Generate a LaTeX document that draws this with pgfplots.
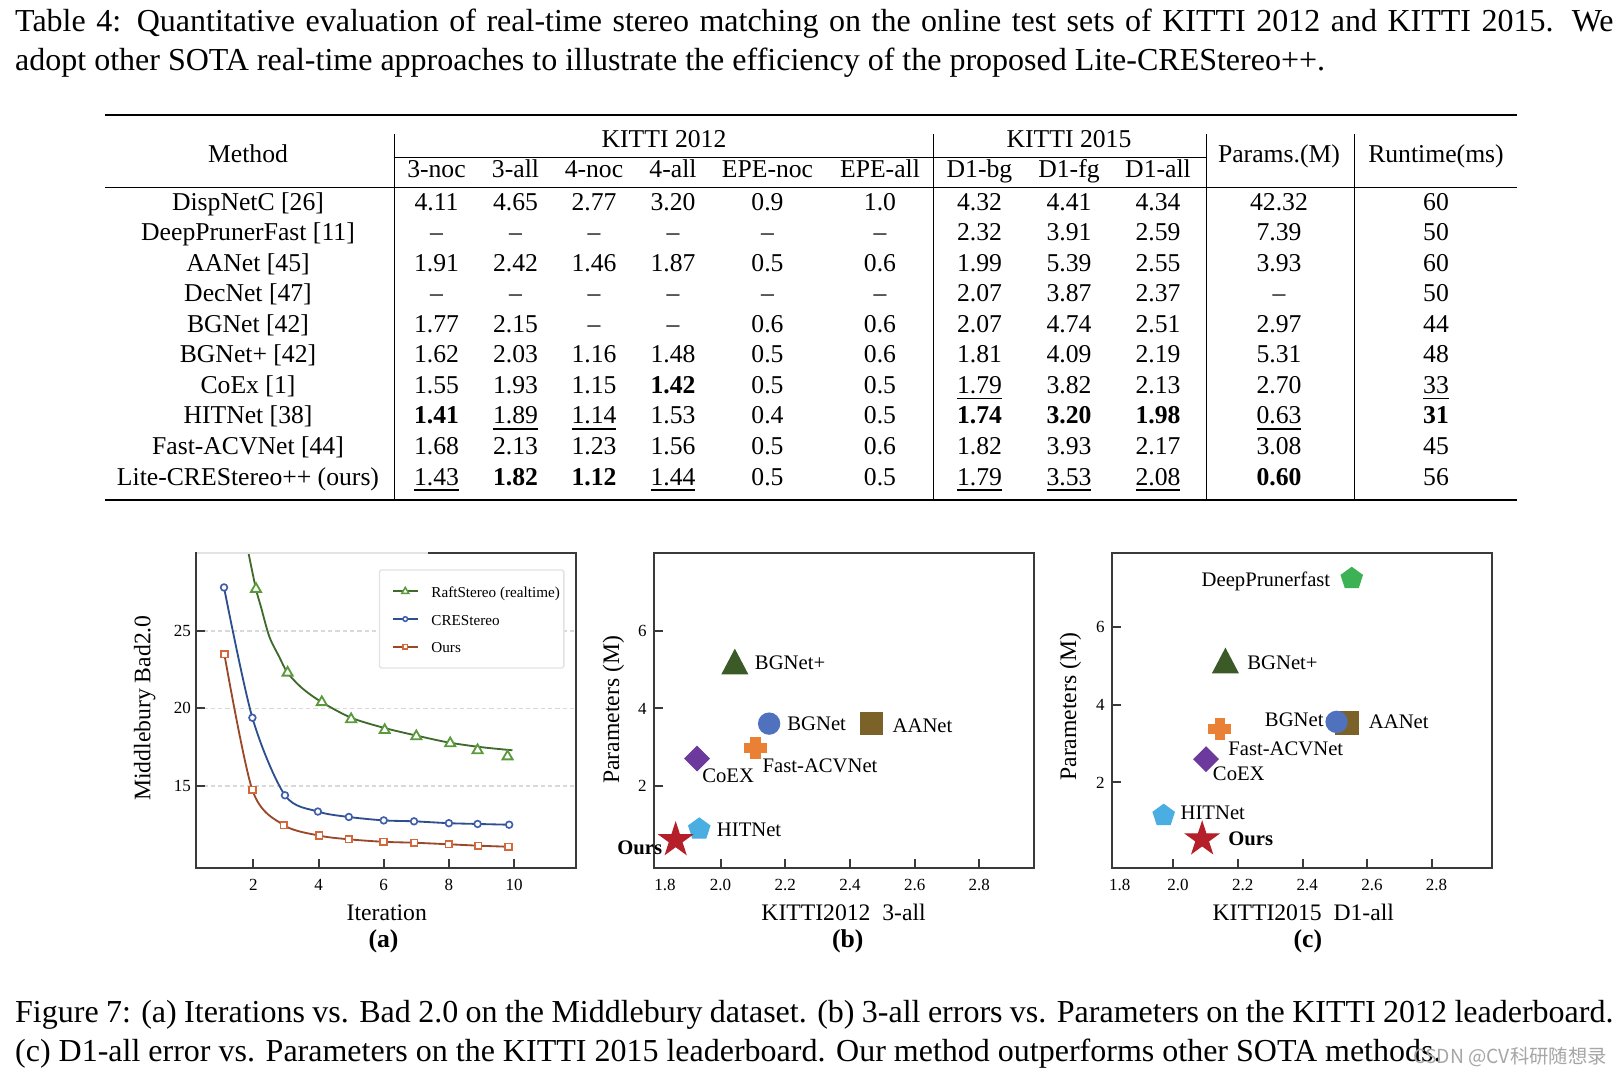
\documentclass[border=0pt]{standalone}
\usepackage{pgfplots}
\pgfplotsset{compat=1.18}
\usepackage{fontspec}
\setmainfont{Liberation Serif}
\newfontfamily\cjk{Noto Sans CJK SC}
\usetikzlibrary{plotmarks}

\definecolor{axgray}{HTML}{3A3A3A}
\definecolor{gridgray}{HTML}{D9D9D9}
\definecolor{raftL}{HTML}{3E6B2C}
\definecolor{raftM}{HTML}{5B9A3C}
\definecolor{creL}{HTML}{2E4F8E}
\definecolor{creM}{HTML}{3F5FAE}
\definecolor{oursL}{HTML}{99482A}
\definecolor{oursM}{HTML}{D4683A}
\definecolor{cBGp}{HTML}{3B5A27}
\definecolor{cBG}{HTML}{4F71BE}
\definecolor{cAA}{HTML}{7B6229}
\definecolor{cFA}{HTML}{E98034}
\definecolor{cCo}{HTML}{6C3A9C}
\definecolor{cHIT}{HTML}{4BAEE3}
\definecolor{cOurs}{HTML}{B51F2A}
\definecolor{cDP}{HTML}{3CB254}

\pgfdeclareplotmark{fplus}{%
  \pgfpathmoveto{\pgfqpoint{-0.42\pgfplotmarksize}{-\pgfplotmarksize}}%
  \pgfpathlineto{\pgfqpoint{0.42\pgfplotmarksize}{-\pgfplotmarksize}}%
  \pgfpathlineto{\pgfqpoint{0.42\pgfplotmarksize}{-0.42\pgfplotmarksize}}%
  \pgfpathlineto{\pgfqpoint{\pgfplotmarksize}{-0.42\pgfplotmarksize}}%
  \pgfpathlineto{\pgfqpoint{\pgfplotmarksize}{0.42\pgfplotmarksize}}%
  \pgfpathlineto{\pgfqpoint{0.42\pgfplotmarksize}{0.42\pgfplotmarksize}}%
  \pgfpathlineto{\pgfqpoint{0.42\pgfplotmarksize}{\pgfplotmarksize}}%
  \pgfpathlineto{\pgfqpoint{-0.42\pgfplotmarksize}{\pgfplotmarksize}}%
  \pgfpathlineto{\pgfqpoint{-0.42\pgfplotmarksize}{0.42\pgfplotmarksize}}%
  \pgfpathlineto{\pgfqpoint{-\pgfplotmarksize}{0.42\pgfplotmarksize}}%
  \pgfpathlineto{\pgfqpoint{-\pgfplotmarksize}{-0.42\pgfplotmarksize}}%
  \pgfpathlineto{\pgfqpoint{-0.42\pgfplotmarksize}{-0.42\pgfplotmarksize}}%
  \pgfpathclose\pgfusepathqfillstroke}
\pgfdeclareplotmark{fstar}{%
  \pgfpathmoveto{\pgfqpointpolar{90}{\pgfplotmarksize}}%
  \pgfpathlineto{\pgfqpointpolar{126}{0.382\pgfplotmarksize}}%
  \pgfpathlineto{\pgfqpointpolar{162}{\pgfplotmarksize}}%
  \pgfpathlineto{\pgfqpointpolar{198}{0.382\pgfplotmarksize}}%
  \pgfpathlineto{\pgfqpointpolar{234}{\pgfplotmarksize}}%
  \pgfpathlineto{\pgfqpointpolar{270}{0.382\pgfplotmarksize}}%
  \pgfpathlineto{\pgfqpointpolar{306}{\pgfplotmarksize}}%
  \pgfpathlineto{\pgfqpointpolar{342}{0.382\pgfplotmarksize}}%
  \pgfpathlineto{\pgfqpointpolar{18}{\pgfplotmarksize}}%
  \pgfpathlineto{\pgfqpointpolar{54}{0.382\pgfplotmarksize}}%
  \pgfpathclose\pgfusepathqfillstroke}

\tikzset{
  tc/.style={anchor=base, inner sep=0, font=\fontsize{7.7}{9}\selectfont},
  lab/.style={anchor=base west, inner sep=0, font=\fontsize{6.2}{7}\selectfont},
}
\newcommand{\rowA}[8]{%
  \node[tc] at (248,#1) {#2};
  \node[tc] at (436.5,#1) {#3};
  \node[tc] at (515.5,#1) {#4};
  \node[tc] at (594,#1) {#5};
  \node[tc] at (673,#1) {#6};
  \node[tc] at (767.5,#1) {#7};
  \node[tc] at (880,#1) {#8};}
\newcommand{\rowB}[6]{%
  \node[tc] at (979.5,#1) {#2};
  \node[tc] at (1069,#1) {#3};
  \node[tc] at (1158,#1) {#4};
  \node[tc] at (1279,#1) {#5};
  \node[tc] at (1436,#1) {#6};}
\newcommand{\ul}[1]{\underline{#1}}
\newcommand{\bb}[1]{\textbf{#1}}
\newcommand{\da}{\textendash}

\pgfplotsset{
  common/.style={
    scale only axis,
    anchor=south west,
    axis line style={axgray, line width=0.6pt},
    tick style={axgray, line width=0.6pt},
    major tick length=2.7pt,
    tick align=inside,
    tick pos=left,
    /pgf/number format/assume math mode=true,
    ticklabel style={font=\fontsize{5.1}{6}\selectfont},
    xticklabel style={yshift=0.2pt},
    label style={font=\fontsize{7.1}{8}\selectfont},
  },
  onedec/.style={
    xticklabel style={/pgf/number format/fixed, /pgf/number format/fixed zerofill, /pgf/number format/precision=1},
  },
}

\begin{document}
\begin{tikzpicture}[x=0.3pt, y=-0.3pt]
\useasboundingbox (0,0) rectangle (1621,1076);
\fill[white] (0,0) rectangle (1621,1076);
\coordinate (PA) at (196,868.3);
\coordinate (PB) at (654,868.3);
\coordinate (PC) at (1112,868.3);

% ---------------- captions ----------------
\node[anchor=base west, inner sep=0] at (14.5,31.5) {\parbox[t]{479.5pt}{\fontsize{9.6}{11.6}\selectfont
Table 4: Quantitative evaluation of real-time stereo matching on the online test sets of KITTI 2012 and KITTI 2015. We\linebreak
adopt other SOTA real-time approaches to illustrate the efficiency of the proposed Lite-CREStereo++.}};

\node[anchor=base west, inner sep=0] at (14.5,1022.5) {\parbox[t]{479.5pt}{\fontsize{9.6}{11.6}\selectfont
Figure 7: (a) Iterations vs. Bad 2.0 on the Middlebury dataset. (b) 3-all errors vs. Parameters on the KITTI 2012 leaderboard.\linebreak
(c) D1-all error vs. Parameters on the KITTI 2015 leaderboard. Our method outperforms other SOTA methods.}};

% ---------------- table ----------------
\draw[line width=0.55pt] (105,115) -- (1517,115);
\draw[line width=0.35pt] (105,187.7) -- (1517,187.7);
\draw[line width=0.55pt] (105,500) -- (1517,500);
\draw[line width=0.3pt] (394.4,157.3) -- (1206,157.3);
\draw[line width=0.3pt] (394.4,134.3) -- (394.4,500);
\draw[line width=0.3pt] (933.1,134.3) -- (933.1,500);
\draw[line width=0.3pt] (1206,134.3) -- (1206,500);
\draw[line width=0.3pt] (1354.3,134.3) -- (1354.3,500);

\node[tc] at (248,162.7) {Method};
\node[tc] at (664,147.3) {KITTI 2012};
\node[tc] at (1069,147.3) {KITTI 2015};
\node[tc] at (1279,162.7) {Params.(M)};
\node[tc] at (1436,162.7) {Runtime(ms)};
\rowA{177.7}{}{3-noc}{3-all}{4-noc}{4-all}{EPE-noc}{EPE-all}
\rowB{177.7}{D1-bg}{D1-fg}{D1-all}{}{}

\rowA{210}{DispNetC [26]}{4.11}{4.65}{2.77}{3.20}{0.9}{1.0}
\rowB{210}{4.32}{4.41}{4.34}{42.32}{60}
\rowA{240.6}{DeepPrunerFast [11]}{\da}{\da}{\da}{\da}{\da}{\da}
\rowB{240.6}{2.32}{3.91}{2.59}{7.39}{50}
\rowA{271.1}{AANet [45]}{1.91}{2.42}{1.46}{1.87}{0.5}{0.6}
\rowB{271.1}{1.99}{5.39}{2.55}{3.93}{60}
\rowA{301.7}{DecNet [47]}{\da}{\da}{\da}{\da}{\da}{\da}
\rowB{301.7}{2.07}{3.87}{2.37}{\da}{50}
\rowA{332.2}{BGNet [42]}{1.77}{2.15}{\da}{\da}{0.6}{0.6}
\rowB{332.2}{2.07}{4.74}{2.51}{2.97}{44}
\rowA{362.8}{BGNet+ [42]}{1.62}{2.03}{1.16}{1.48}{0.5}{0.6}
\rowB{362.8}{1.81}{4.09}{2.19}{5.31}{48}
\rowA{393.4}{CoEx [1]}{1.55}{1.93}{1.15}{\bb{1.42}}{0.5}{0.5}
\rowB{393.4}{\ul{1.79}}{3.82}{2.13}{2.70}{\ul{33}}
\rowA{423.9}{HITNet [38]}{\bb{1.41}}{\ul{1.89}}{\ul{1.14}}{1.53}{0.4}{0.5}
\rowB{423.9}{\bb{1.74}}{\bb{3.20}}{\bb{1.98}}{\ul{0.63}}{\bb{31}}
\rowA{454.5}{Fast-ACVNet [44]}{1.68}{2.13}{1.23}{1.56}{0.5}{0.6}
\rowB{454.5}{1.82}{3.93}{2.17}{3.08}{45}
\rowA{485}{Lite-CREStereo++ (ours)}{\ul{1.43}}{\bb{1.82}}{\bb{1.12}}{\ul{1.44}}{0.5}{0.5}
\rowB{485}{\ul{1.79}}{\ul{3.53}}{\ul{2.08}}{\bb{0.60}}{56}

% ---------------- (a) ----------------
\begin{axis}[common,
  at={(PA)}, width=114pt, height=94.5pt,
  xmin=0.24, xmax=11.9, ymin=9.69, ymax=30,
  xtick={2,4,6,8,10}, ytick={15,20,25},
  yticklabel style={xshift=2pt},
  ymajorgrids, grid style={gridgray, dash pattern=on 1.3pt off 0.9pt, line width=0.45pt},
  xlabel={Iteration}, ylabel={Middlebury Bad2.0},
  xlabel style={at={(axis description cs:0.502,-0.140)}, anchor=center},
  ylabel style={at={(axis description cs:-0.135,0.509)}, anchor=center},
  legend image code/.code={\path[draw=none, fill=none] (0pt,0pt) rectangle (3.6pt,0.1pt); \draw[mark repeat=2,mark phase=2] plot coordinates {(3.6pt,0pt) (7.35pt,0pt) (11.1pt,0pt)};},
  legend cell align=left,
  legend style={at={(axis description cs:0.481,0.949)}, anchor=north west,
    draw=gray!22, line width=0.4pt, fill=white, rounded corners=0.5pt,
    font=\fontsize{4.55}{5.5}\selectfont, inner xsep=0.4pt, inner ysep=3.5pt,
    row sep=2.5pt, column sep=3pt,
    nodes={inner sep=0.8pt, text height=3.9pt, text depth=0.3pt}},
]
\addplot[raftL, line width=0.55pt, smooth, forget plot] coordinates {
 (1.857,29.95) (2.08,27.7) (2.23,26.57) (2.49,24.63) (2.79,23.34) (3.05,22.3) (3.5,21.3) (4.1,20.4) (5,19.4) (6,18.75) (7,18.25) (8,17.8) (9,17.5) (9.95,17.3)};
\addplot[only marks, mark=triangle*, mark size=1.75pt, mark options={draw=raftM, fill=white, line width=0.55pt}, forget plot] coordinates {
 (2.08,27.7) (3.05,22.3) (4.1,20.4) (5.0,19.3) (6.03,18.6) (7.0,18.2) (8.04,17.75) (8.88,17.3) (9.8,16.9)};
\addplot[creL, line width=0.55pt, smooth, mark=*, mark size=1pt, mark options={draw=creM, fill=white, line width=0.5pt}, forget plot] coordinates {
 (1.1,27.8) (1.97,19.4) (2.97,14.4) (3.98,13.35) (4.93,13.0) (6.0,12.78) (6.93,12.72) (8.0,12.6) (8.88,12.55) (9.85,12.5)};
\addplot[oursL, line width=0.55pt, smooth, mark=square*, mark size=1pt, mark options={draw=oursM, fill=white, line width=0.5pt}, forget plot] coordinates {
 (1.11,23.5) (1.97,14.74) (2.93,12.48) (4.02,11.8) (4.93,11.56) (5.99,11.4) (6.93,11.34) (8.0,11.24) (8.9,11.15) (9.83,11.08)};
\addlegendimage{raftL, line width=0.6pt, mark=triangle*, mark size=1.2pt, mark options={draw=raftM, fill=white, line width=0.45pt}}
\addlegendentry{RaftStereo (realtime)}
\addlegendimage{creL, line width=0.6pt, mark=*, mark size=0.7pt, mark options={draw=creM, fill=white, line width=0.45pt}}
\addlegendentry{CREStereo}
\addlegendimage{oursL, line width=0.6pt, mark=square*, mark size=0.7pt, mark options={draw=oursM, fill=white, line width=0.45pt}}
\addlegendentry{Ours}
\end{axis}
\draw[gray!22, line width=0.7pt] (197,553.3) -- (428,553.3);

% ---------------- (b) ----------------
\begin{axis}[common, onedec,
  at={(PB)}, width=114pt, height=94.5pt,
  xmin=1.794, xmax=2.969, ymin=-0.12, ymax=8.0,
  xtick={2,2.2,2.4,2.6,2.8}, ytick={2,4,6},
  extra x ticks={1.8}, extra x tick labels={1.8},
  extra x tick style={major tick length=0pt, xticklabel style={xshift=2.7pt}},
  yticklabel style={xshift=1.3pt},
  xlabel={KITTI2012\ \ 3-all}, ylabel={Parameters (M)},
  xlabel style={at={(axis description cs:0.499,-0.140)}, anchor=center},
  ylabel style={at={(axis description cs:-0.107,0.503)}, anchor=center},
]
\addplot[only marks, mark=triangle*, mark size=4.3pt, mark options={draw=cBGp, fill=cBGp, yscale=1.1}] coordinates {(2.044,5.10)};
\addplot[only marks, mark=*, mark size=3.15pt, mark options={draw=cBG, fill=cBG}] coordinates {(2.150,3.61)};
\addplot[only marks, mark=square*, mark size=3.3pt, mark options={draw=cAA, fill=cAA}] coordinates {(2.467,3.61)};
\addplot[only marks, mark=fplus, mark size=3.15pt, mark options={draw=cFA, fill=cFA}] coordinates {(2.108,2.98)};
\addplot[only marks, mark=square*, mark size=2.55pt, mark options={draw=cCo, fill=cCo, rotate=45}] coordinates {(1.927,2.71)};
\addplot[only marks, mark=pentagon*, mark size=3.31pt, mark options={draw=cHIT, fill=cHIT}] coordinates {(1.934,0.89)};
\addplot[only marks, mark=fstar, mark size=5.05pt, mark options={draw=cOurs, fill=cOurs}] coordinates {(1.861,0.61)};
\end{axis}
\node[lab] at (754.3,669) {BGNet+};
\node[lab] at (786.7,730.8) {BGNet};
\node[lab] at (892,732) {AANet};
\node[lab] at (762,772.4) {Fast-ACVNet};
\node[lab] at (701.7,782.4) {CoEX};
\node[lab] at (716.3,836.7) {HITNet};
\node[lab] at (616.7,854.5) {\bfseries Ours};

% ---------------- (c) ----------------
\begin{axis}[common, onedec,
  at={(PC)}, width=114.1pt, height=94.5pt,
  xmin=1.81, xmax=2.987, ymin=-0.21, ymax=7.9,
  xtick={2,2.2,2.4,2.6,2.8}, ytick={2,4,6},
  xticklabel style={xshift=1.4pt},
  extra x ticks={1.81}, extra x tick labels={1.8},
  extra x tick style={major tick length=0pt, xticklabel style={xshift=0.9pt}},
  yticklabel style={xshift=1.3pt},
  xlabel={KITTI2015\ \ D1-all}, ylabel={Parameters (M)},
  xlabel style={at={(axis description cs:0.503,-0.140)}, anchor=center},
  ylabel style={at={(axis description cs:-0.109,0.513)}, anchor=center},
  clip=false,
]
\addplot[only marks, mark=pentagon*, mark size=3.31pt, mark options={draw=cDP, fill=cDP}] coordinates {(2.552,7.25)};
\addplot[only marks, mark=triangle*, mark size=4.3pt, mark options={draw=cBGp, fill=cBGp, yscale=1.1}] coordinates {(2.161,5.03)};
\addplot[only marks, mark=square*, mark size=3.3pt, mark options={draw=cAA, fill=cAA}] coordinates {(2.537,3.53)};
\addplot[only marks, mark=*, mark size=3.15pt, mark options={draw=cBG, fill=cBG}] coordinates {(2.505,3.56)};
\addplot[only marks, mark=fplus, mark size=3.15pt, mark options={draw=cFA, fill=cFA}] coordinates {(2.143,3.38)};
\addplot[only marks, mark=square*, mark size=2.55pt, mark options={draw=cCo, fill=cCo, rotate=45}] coordinates {(2.101,2.60)};
\addplot[only marks, mark=pentagon*, mark size=3.31pt, mark options={draw=cHIT, fill=cHIT}] coordinates {(1.970,1.15)};
\addplot[only marks, mark=fstar, mark size=5.05pt, mark options={draw=cOurs, fill=cOurs}] coordinates {(2.089,0.54)};
\end{axis}
\node[lab] at (1201,586) {DeepPrunerfast};
\node[lab] at (1246.7,669) {BGNet+};
\node[lab] at (1264.3,726) {BGNet};
\node[lab] at (1368.3,728.3) {AANet};
\node[lab] at (1227.7,755.7) {Fast-ACVNet};
\node[lab] at (1212.3,780) {CoEX};
\node[lab] at (1180,819) {HITNet};
\node[lab] at (1227.7,845) {\bfseries Ours};

% sub labels
\node[anchor=base, inner sep=0, font=\fontsize{7.7}{9}\selectfont\bfseries] at (383.5,947) {(a)};
\node[anchor=base, inner sep=0, font=\fontsize{7.7}{9}\selectfont\bfseries] at (847.7,947) {(b)};
\node[anchor=base, inner sep=0, font=\fontsize{7.7}{9}\selectfont\bfseries] at (1307.8,947) {(c)};

% watermark
\node[anchor=base west, inner sep=0, text=gray!70] at (1412.7,1063.3) {\cjk\fontsize{5.8}{7}\selectfont CSDN @CV科研随想录};
\end{tikzpicture}
\end{document}
